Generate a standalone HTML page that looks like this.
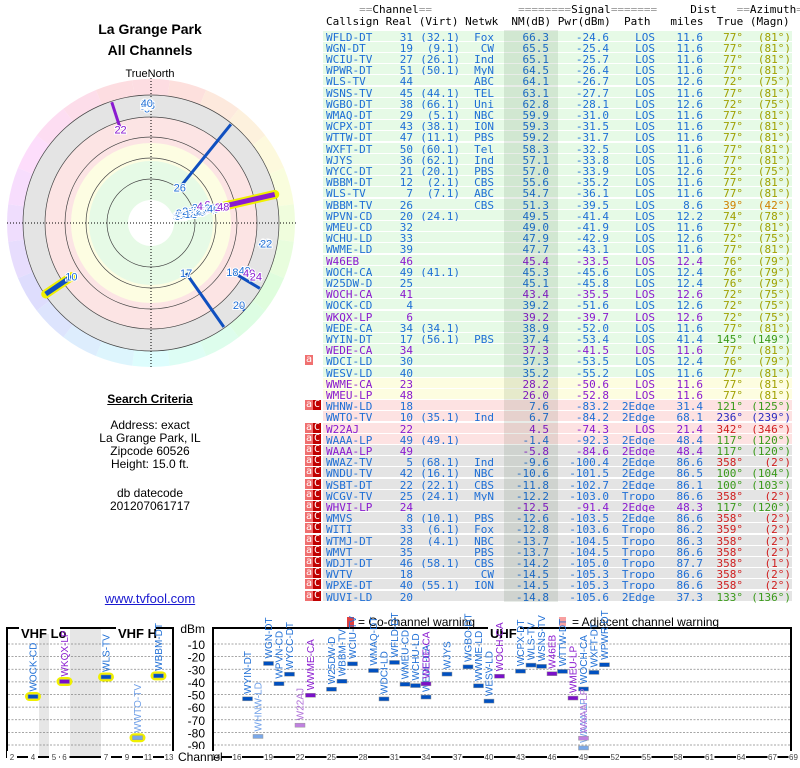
<!DOCTYPE html>
<html><head><meta charset="utf-8">
<style>
body{margin:0;width:800px;height:768px;background:#fff;position:relative;overflow:hidden;font-family:"Liberation Sans",sans-serif}
.t{position:absolute;white-space:pre}
.c{position:absolute;left:0;width:300px;text-align:center;font-size:12px;color:#000}
.mono{font-family:"DejaVu Sans Mono","Liberation Mono",monospace;font-size:11px}
</style></head><body>
<div class="c" style="top:21px;font-size:14px;font-weight:bold">La Grange Park</div>
<div class="c" style="top:42px;font-size:14px;font-weight:bold">All Channels</div>
<div class="c" style="top:68px;font-size:11px">TrueNorth</div>
<svg id="radar" style="position:absolute;left:0;top:0" width="300" height="380"></svg>
<div class="c" style="top:392px;font-weight:bold;text-decoration:underline">Search Criteria</div>
<div class="c" style="top:418px">Address: exact</div>
<div class="c" style="top:431px">La Grange Park, IL</div>
<div class="c" style="top:444px">Zipcode 60526</div>
<div class="c" style="top:457px">Height: 15.0 ft.</div>
<div class="c" style="top:486px">db datecode</div>
<div class="c" style="top:499px">201207061717</div>
<div class="c" style="top:591px;color:#1a1ad0;text-decoration:underline;font-size:13px">www.tvfool.com</div>

<div class="t mono" style="left:326px;top:3px;color:#000">     <span style="color:#999">==</span>Channel<span style="color:#999">==</span>             <span style="color:#999">========</span>Signal<span style="color:#999">=======</span>     Dist   <span style="color:#999">==</span>Azimuth<span style="color:#999">==</span></div>
<div class="t mono" style="left:326px;top:15px;color:#000">Callsign Real (Virt) Netwk  NM(dB) Pwr(dBm)  Path   miles  True (Magn)</div>
<div id="table"></div>
<div style="position:absolute;left:504px;top:30px;width:54px;height:572px;background:rgba(0,40,0,0.09)"></div>

<div class="t" style="left:347px;top:617px;width:7px;height:11px;background:#e04040"></div>
<div class="t" style="left:358px;top:615px;font-size:12px">= Co-channel warning</div>
<div class="t" style="left:559px;top:617px;width:7px;height:9px;background:#f8a0a0"></div>
<div class="t" style="left:572px;top:615px;font-size:12px">= Adjacent channel warning</div>
<svg id="bars" style="position:absolute;left:0;top:610px" width="800" height="158"></svg>

<script>
const calls=["WFLD-DT","WGN-DT","WCIU-TV","WPWR-DT","WLS-TV","WSNS-TV","WGBO-DT","WMAQ-DT","WCPX-DT","WTTW-DT","WXFT-DT","WJYS","WYCC-DT","WBBM-DT","WLS-TV","WBBM-TV","WPVN-CD","WMEU-CD","WCHU-LD","WWME-LD","W46EB","WOCH-CA","W25DW-D","WOCH-CA","WOCK-CD","WKQX-LP","WEDE-CA","WYIN-DT","WEDE-CA","WDCI-LD","WESV-LD","WWME-CA","WMEU-LP","WHNW-LD","WWTO-TV","W22AJ","WAAA-LP","WAAA-LP","WWAZ-TV","WNDU-TV","WSBT-DT","WCGV-TV","WHVI-LP","WMVS","WITI","WTMJ-DT","WMVT","WDJT-DT","WVTV","WPXE-DT","WUVI-LD"];
const real=[31,19,27,51,44,45,38,29,43,47,50,36,21,12,7,26,20,32,33,39,46,49,25,41,4,6,34,17,34,30,40,23,48,18,10,22,49,49,5,42,22,25,24,8,33,28,35,46,18,40,20];
const virt=["32.1","9.1","26.1","50.1","","44.1","66.1","5.1","38.1","11.1","60.1","62.1","20.1","2.1","7.1","","24.1","","","","","41.1","","","","","34.1","56.1","","","","","","","35.1","","49.1","","68.1","16.1","22.1","24.1","","10.1","6.1","4.1","","58.1","","55.1",""];
const netwk=["Fox","CW","Ind","MyN","ABC","TEL","Uni","NBC","ION","PBS","Tel","Ind","PBS","CBS","ABC","CBS","","","","","","","","","","","","PBS","","","","","","","Ind","","","","Ind","NBC","CBS","MyN","","PBS","Fox","NBC","PBS","CBS","CW","ION",""];
const nm=[66.3,65.5,65.1,64.5,64.1,63.1,62.8,59.9,59.3,59.2,58.3,57.1,57.0,55.6,54.7,51.3,49.5,49.0,47.9,47.7,45.4,45.3,45.1,43.4,39.2,39.2,38.9,37.4,37.3,37.3,35.2,28.2,26.0,7.6,6.7,4.5,-1.4,-5.8,-9.6,-10.6,-11.8,-12.2,-12.5,-12.6,-12.8,-13.7,-13.7,-14.2,-14.5,-14.5,-14.8];
const pwr=[-24.6,-25.4,-25.7,-26.4,-26.7,-27.7,-28.1,-31.0,-31.5,-31.7,-32.5,-33.8,-33.9,-35.2,-36.1,-39.5,-41.4,-41.9,-42.9,-43.1,-33.5,-45.6,-45.8,-35.5,-51.6,-39.7,-52.0,-53.4,-41.5,-53.5,-55.2,-50.6,-52.8,-83.2,-84.2,-74.3,-92.3,-84.6,-100.4,-101.5,-102.7,-103.0,-91.4,-103.5,-103.6,-104.5,-104.5,-105.0,-105.3,-105.3,-105.6];
const path=["LOS","LOS","LOS","LOS","LOS","LOS","LOS","LOS","LOS","LOS","LOS","LOS","LOS","LOS","LOS","LOS","LOS","LOS","LOS","LOS","LOS","LOS","LOS","LOS","LOS","LOS","LOS","LOS","LOS","LOS","LOS","LOS","LOS","2Edge","2Edge","LOS","2Edge","2Edge","2Edge","2Edge","2Edge","Tropo","2Edge","2Edge","Tropo","Tropo","Tropo","Tropo","Tropo","Tropo","2Edge"];
const dist=[11.6,11.6,11.6,11.6,12.6,11.6,12.6,11.6,11.6,11.6,11.6,11.6,12.6,11.6,11.6,8.6,12.2,11.6,12.6,11.6,12.4,12.4,12.4,12.6,12.6,12.6,11.6,41.4,11.6,12.4,11.6,11.6,11.6,31.4,68.1,21.4,48.4,48.4,86.6,86.5,86.1,86.6,48.3,86.6,86.2,86.3,86.6,87.7,86.6,86.6,37.3];
const azTrue=[77,77,77,77,72,77,72,77,77,77,77,77,72,77,77,39,74,77,72,77,76,76,76,72,72,72,77,145,77,76,77,77,77,121,236,342,117,117,358,100,100,358,117,358,359,358,358,358,358,358,133];
const azMagn=[81,81,81,81,75,81,75,81,81,81,81,81,75,81,81,42,78,81,75,81,79,79,79,75,75,75,81,149,81,79,81,81,81,125,239,346,120,120,2,104,103,2,120,2,2,2,2,1,2,2,136];
const purple=[20,23,25,28,31,32,35,37,42];
const warn=["","","","","","","","","","","","","","","","","","","","","","","","","","","","","","a","","","","aC","","aC","aC","aC","aC","aC","aC","aC","aC","aC","aC","aC","aC","aC","aC","aC","aC"];

const BLUE="#1f6fd6",PURP="#8a1ad0";
function bgFor(i){return i<=30?"#e6fae6":i<=32?"#fdfde0":i<=36?"#fde2e2":"#e4e4e4";}
function azCol(a){if(a>=70&&a<=80)return"#a0a000";if(a<60)return"#d08000";if(a===236)return"#2b2bc0";if(a>300)return"#d02020";return"#3a9a1a";}
const tb=document.getElementById('table');
function sp(row,txt,left,right,col){const s=document.createElement('span');s.className='t mono';s.textContent=txt;s.style.top='0px';if(left!=null)s.style.left=left+'px';else s.style.right=(800-right)+'px';s.style.color=col;row.appendChild(s);return s;}
for(let i=0;i<calls.length;i++){
  const r=document.createElement('div');
  
  
  r.style.cssText='position:absolute;left:0;width:800px;top:'+(30.5+i*11.2)+'px;height:11.2px';
  const bg=document.createElement('div');bg.style.cssText='position:absolute;left:323px;width:469px;top:0;height:10.2px;background:'+bgFor(i);r.appendChild(bg);
  const col=purple.includes(i)?PURP:BLUE;
  sp(r,calls[i],326,null,col);
  sp(r,String(real[i]),null,413,col);
  if(virt[i])sp(r,'('+virt[i]+')',null,460,col);
  if(netwk[i])sp(r,netwk[i],null,494,col);
  sp(r,nm[i].toFixed(1),null,549,col);
  sp(r,pwr[i].toFixed(1),null,609,col);
  sp(r,path[i],null,655,col);
  sp(r,dist[i].toFixed(1),null,703,col);
  const ac=azCol(azTrue[i]);
  sp(r,azTrue[i]+'°',null,743,ac);
  sp(r,'('+azMagn[i]+'°)',null,791,ac);
  if(warn[i]){
    const a=document.createElement('div');a.className='t mono';a.textContent='a';a.style.cssText+='left:305px;top:0;width:8px;height:10px;line-height:10px;background:#f07070;color:#fff;font-size:10px;text-align:center';r.appendChild(a);
    if(warn[i]==='aC'){const c=document.createElement('div');c.className='t mono';c.textContent='C';c.style.cssText+='left:313px;top:0;width:8px;height:10px;line-height:10px;background:#c00000;color:#fff;font-size:10px;text-align:center';r.appendChild(c);}
  }
  tb.appendChild(r);
}

// Radar
const NS="http://www.w3.org/2000/svg";
const rad=document.getElementById('radar');
function el(p,tag,at){const e=document.createElementNS(NS,tag);for(const k in at)e.setAttribute(k,at[k]);p.appendChild(e);return e;}
const cx=151,cy=223;
for(let k=0;k<24;k++){
  const a0=(k*15-7.5)*Math.PI/180,a1=(k*15+7.5)*Math.PI/180,R=144;
  const w=el(rad,'path',{d:`M${cx},${cy} L${cx+R*Math.sin(a0)},${cy-R*Math.cos(a0)} A${R},${R} 0 0 1 ${cx+R*Math.sin(a1)},${cy-R*Math.cos(a1)} Z`,fill:`hsl(${(350+k*15*1.05)%360},90%,93%)`});
  
  
}
[[128,"#e4e4e4"],[106,"#fce4e4"],[80,"#fdfde2"],[62,"#e6fae6"],[23,"#ffffff"]].forEach(([r,f])=>{const c=el(rad,'circle',{cx:cx,cy:cy,r:r,fill:f});});
[128,106,86,65,44].forEach(r=>{const c=el(rad,'circle',{cx:cx,cy:cy,r:r,fill:'none',stroke:'#444','stroke-width':0.7});});
el(rad,'line',{x1:7,y1:cy,x2:296,y2:cy,stroke:'#000','stroke-dasharray':'1,2','stroke-width':1});
el(rad,'line',{x1:cx,y1:78,x2:cx,y2:368,stroke:'#000','stroke-dasharray':'1,2','stroke-width':1});
function rOf(v){return Math.min(124,29+(66-v)*1.13);}
function pt(az,r){const a=az*Math.PI/180;return[cx+r*Math.sin(a),cy-r*Math.cos(a)];}
const lineRows=[15,27,33,50,35,34,28];
lineRows.forEach(i=>{
  const [x1,y1]=pt(azTrue[i],rOf(nm[i])),[x2,y2]=pt(azTrue[i],i===50?128:127);
  const thick=(i===34||i===28);
  if(thick){const h=el(rad,'line',{x1:x1,y1:y1,x2:x2,y2:y2,stroke:'#f0f000','stroke-width':9,'stroke-linecap':'round'});}
  const l=el(rad,'line',{x1:x1,y1:y1,x2:x2,y2:y2,stroke:purple.includes(i)?PURP:'#1050c0','stroke-width':thick?5:3});
  
  
});
for(let i=0;i<calls.length;i++){
  const [x,y]=pt(azTrue[i],rOf(nm[i]));
  const t=el(rad,'text',{x:x,y:y+4,'font-size':11,'text-anchor':'middle',fill:purple.includes(i)?PURP:BLUE,stroke:'#fff','stroke-width':2,'paint-order':'stroke','font-family':'Liberation Sans, sans-serif'});
  t.textContent=real[i];
  
  
}

// Bottom chart
const dbTicks=[-10,-20,-30,-40,-50,-60,-70,-80,-90];
const vhfTicks=[2,4,5,6,7,9,11,13];
const uhfTicks=[14,16,19,22,25,28,31,34,37,40,43,46,49,52,55,58,61,64,67,69];
const B=document.getElementById('bars');
const Y0=610;
function yOf(d){return 631.4-d*1.2625-Y0;}
function xOf(ch){if(ch<=4)return 12+(ch-2)*10.5;if(ch<=6)return 54+(ch-5)*10.5;if(ch<=13)return 106+(ch-7)*10.5;return 216+(ch-14)*10.5;}
el(B,'rect',{x:39,y:18,width:10,height:129,fill:'#e6e6e6'});
el(B,'rect',{x:70,y:18,width:31,height:129,fill:'#e6e6e6'});
dbTicks.forEach(d=>{
  const y=yOf(d);
  el(B,'line',{x1:8,y1:y,x2:172,y2:y,stroke:'#888','stroke-dasharray':'2,1.5','stroke-width':0.8});
  el(B,'line',{x1:214,y1:y,x2:790,y2:y,stroke:'#888','stroke-dasharray':'2,1.5','stroke-width':0.8});
  const t=el(B,'text',{x:205,y:y+5,'font-size':12,'text-anchor':'end',fill:'#000'});t.textContent=d;
  
});
const yt=el(B,'text',{x:205,y:23,'font-size':12,'text-anchor':'end'});yt.textContent='dBm';

el(B,'rect',{x:7,y:18,width:166,height:129,fill:'none',stroke:'#000','stroke-width':2});
el(B,'rect',{x:213,y:18,width:578,height:129,fill:'none',stroke:'#000','stroke-width':2});
[["VHF Lo",19,60],["VHF H",116,156],["UHF",488,520]].forEach(([s,x0,x1])=>{
  el(B,'rect',{x:x0,y:14,width:x1-x0,height:10,fill:'#fff'});
  const t=el(B,'text',{x:x0+2,y:28,'font-size':13,'font-weight':'bold'});t.textContent=s;
  
});
vhfTicks.concat(uhfTicks).forEach(ch=>{
  const x=xOf(ch);
  el(B,'rect',{x:x-5,y:141,width:10,height:10,fill:'#fff'});
  const t=el(B,'text',{x:x,y:150,'font-size':8,'text-anchor':'middle',fill:'#444'});t.textContent=ch;
  
});
el(B,'rect',{x:176,y:139,width:36,height:14,fill:'#fff'});
const ct=el(B,'text',{x:178,y:151,'font-size':12});ct.textContent='Channel';

for(let i=0;i<=37;i++){
  const x=xOf(real[i]),y=yOf(pwr[i]);
  const faded=i>=33;
  const p=purple.includes(i);
  const col=faded?(p?'#c080e0':'#7aa8e8'):(p?'#7a10c8':'#0050c0');
  if(real[i]<=13){const h=el(B,'rect',{x:x-8,y:y-4.5,width:16,height:9,rx:4.5,fill:'#f0f000'});}
  const m=el(B,'rect',{x:x-5,y:y-2,width:10,height:4,fill:col,stroke:'#999','stroke-width':0.5});
  
  
  const t=el(B,'text',{x:0,y:0,'font-size':10,'text-anchor':'start',fill:faded?(p?'#b070d8':'#70a0e8'):(p?PURP:BLUE),transform:`translate(${x+3.5},${y-5}) rotate(-90)`});
  t.textContent=calls[i];
  
  
}
</script>
</body></html>
